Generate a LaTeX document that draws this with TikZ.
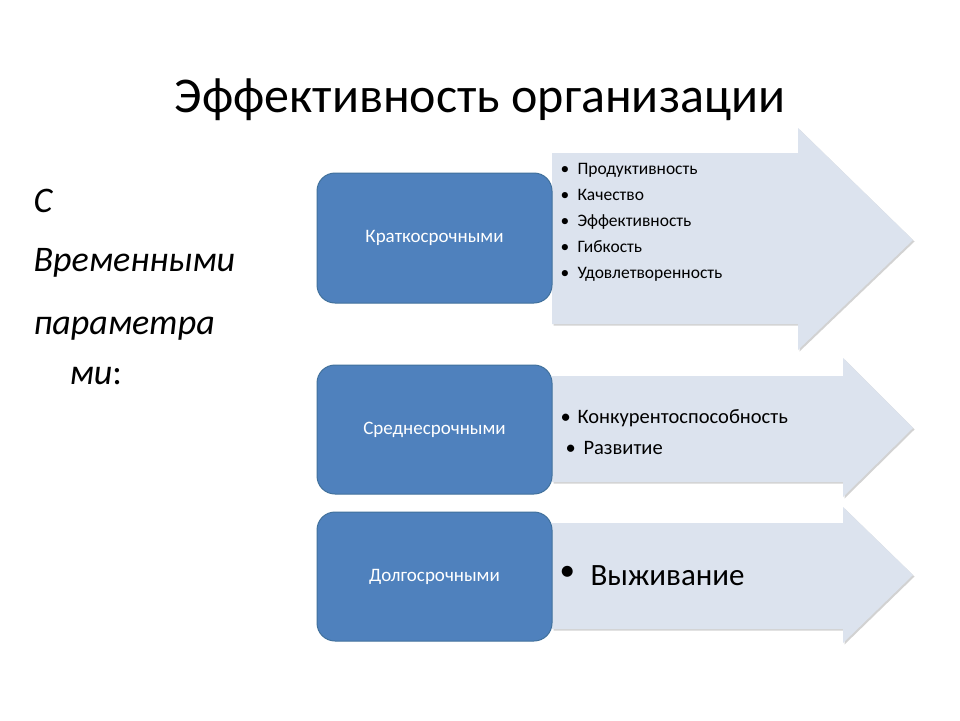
\documentclass[tikz,border=0pt]{standalone}
\usepackage{fontspec}
\setmainfont{Carlito}
\usetikzlibrary{shadows}
\definecolor{boxblue}{HTML}{4F81BD}
\definecolor{boxedge}{HTML}{41719C}
\definecolor{arrfill}{HTML}{DCE3EE}
\tikzset{
  bluebox/.style={draw=boxedge,line width=1pt,fill=boxblue,rounded corners=18pt,text=white,font=\fontsize{19}{22}\selectfont},
  arrowshape/.style={fill=arrfill,draw=none,drop shadow={shadow xshift=1.5pt,shadow yshift=-1.5pt,opacity=0.35}},
  lefttxt/.style={anchor=base west,font=\fontsize{36}{40}\selectfont\itshape},
  itemtxt/.style={anchor=base west,font=\fontsize{17.5}{20}\selectfont}
}
\begin{document}
\begin{tikzpicture}[x=1pt,y=-1pt]
\useasboundingbox (0,0) rectangle (960,720);
\fill[white] (0,0) rectangle (960,720);
\node[anchor=base,font=\fontsize{50}{56}\selectfont] (title) at (480,112) {Эффективность организации};
\node[lefttxt] (l1) at (30,212) {С};
\node[lefttxt] (l2) at (30,271) {Временными};
\node[lefttxt] (l3) at (30,334) {параметра};
\node[lefttxt] (l4) at (66,384) {ми\upshape:};
% arrows
\path[arrowshape] (552,153) -- (798,153) -- (798,128) -- (913,240) -- (798,350) -- (798,324) -- (552,324) -- cycle;
\path[arrowshape] (552,376) -- (843,376) -- (843,358) -- (913,428) -- (843,497) -- (843,482) -- (552,482) -- cycle;
\path[arrowshape] (552,523) -- (843,523) -- (843,507) -- (913,575) -- (843,643) -- (843,629) -- (552,629) -- cycle;
% boxes
\node[bluebox,minimum width=235pt,minimum height=130pt] (b1) at (434.5,238) {Краткосрочными};
\node[bluebox,minimum width=235pt,minimum height=129pt] (b2) at (434.5,429.5) {Среднесрочными};
\node[bluebox,minimum width=235pt,minimum height=129pt] (b3) at (434.5,576.5) {Долгосрочными};
% list 1
\foreach \t/\y [count=\i] in {Продуктивность/174,Качество/200,Эффективность/226,Гибкость/252,Удовлетворенность/278}{
  \node[itemtxt] (a\i) at (574,\y) {\t};
  \node[itemtxt] (d\i) at (557,\y) {•};
}
\node[anchor=base west,font=\fontsize{20.5}{24}\selectfont] (m1) at (574,423) {Конкурентоспособность};
\node[anchor=base west,font=\fontsize{20.5}{24}\selectfont] (m2) at (580,454) {Развитие};
\node[anchor=base west,font=\fontsize{20.5}{24}\selectfont] (md1) at (557,423) {•};
\node[anchor=base west,font=\fontsize{20.5}{24}\selectfont] (md2) at (562,454) {•};
\node[anchor=base west,font=\fontsize{31}{36}\selectfont] (s1) at (587,585) {Выживание};
\node[anchor=base west,font=\fontsize{31}{36}\selectfont] (sd1) at (556,580) {•};
\end{tikzpicture}
\end{document}
